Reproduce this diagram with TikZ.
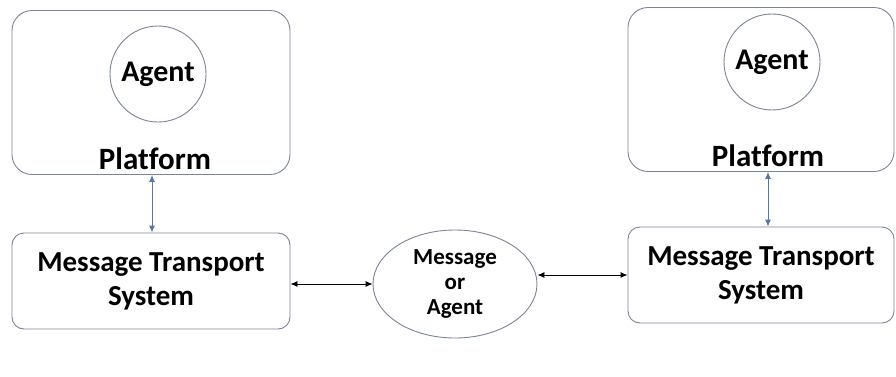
\documentclass[tikz,border=0pt]{standalone}
\usepackage{fontspec}
\setmainfont[Ligatures=NoCommon]{Carlito}
\usetikzlibrary{shapes.geometric,arrows.meta}
\definecolor{boxline}{HTML}{7A8496}
\definecolor{vline}{HTML}{5B74A8}
\tikzset{
  platbox/.style={draw=boxline, line width=0.9bp, rounded corners=20bp, minimum width=278bp, minimum height=164bp},
  mtsbox/.style={draw=boxline, line width=0.9bp, rounded corners=12bp, minimum width=278bp, minimum height=96bp, align=center, font=\fontsize{29bp}{34bp}\selectfont\bfseries},
  agentc/.style={draw=boxline, line width=0.9bp, circle, minimum size=96bp, font=\fontsize{30bp}{34bp}\selectfont\bfseries, inner sep=0pt},
  plab/.style={font=\fontsize{31bp}{36bp}\selectfont\bfseries, inner sep=0pt},
  msgell/.style={draw=boxline, line width=0.9bp, ellipse, minimum width=164bp, minimum height=108bp, inner sep=0pt, align=center, font=\fontsize{23bp}{25bp}\selectfont\bfseries},
  varrow/.style={draw=vline, line width=0.9bp, {Latex[length=7bp,width=6bp]}-{Latex[length=7bp,width=6bp]}},
  harrow/.style={draw=black, line width=0.9bp, {Latex[length=7bp,width=6bp]}-{Latex[length=7bp,width=6bp]}},
}
\begin{document}
\begin{tikzpicture}[x=1bp,y=-1bp]
\useasboundingbox (0,0) rectangle (896,376);
% left
\node[platbox] (lplat) at (151,92.5) {};
\node[agentc] (lagent) at (158,74) {Agent};
\node[plab] (lplab) at (155,159) {Platform};
\node[mtsbox] (lmts) at (151,281) {Message Transport\\System};
% right
\node[platbox, minimum width=266bp] (rplat) at (761,89.5) {};
\node[agentc] (ragent) at (772,62) {Agent};
\node[plab] (rplab) at (768,156) {Platform};
\node[mtsbox, minimum width=266bp] (rmts) at (761,275) {Message Transport\\System};
% middle
\node[msgell] (msg) at (455,284) {Message\\or\\Agent};
% arrows
\draw[varrow] ([xshift=1bp]lplat.south) -- ([xshift=1bp]lmts.north);
\draw[varrow] ([xshift=7bp]rplat.south) -- ([xshift=7bp]rmts.north);
\draw[harrow] (lmts.east |- msg.west) -- (msg.west);
\draw[harrow] (msg.east |- rmts.west) -- (rmts.west);
\end{tikzpicture}
\end{document}
